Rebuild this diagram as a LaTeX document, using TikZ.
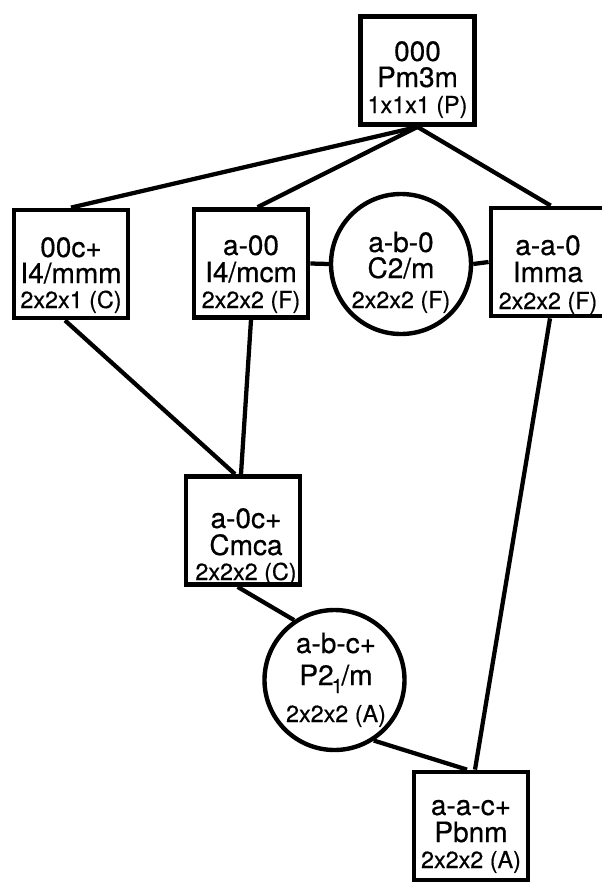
\documentclass[tikz,border=0pt]{standalone}
\usepackage{fontspec}
\setmainfont{TeX Gyre Heros}[FakeBold=0.5]
\usetikzlibrary{calc}
\begin{document}
\begin{tikzpicture}[x=0.75pt,y=-0.75pt,
  box/.style={draw, line width=3.6pt, minimum width=85.5pt, minimum height=81pt, inner sep=0pt},
  ring/.style={draw, circle, line width=3.3pt, minimum size=105pt, inner sep=0pt},
  conn/.style={line width=3.2pt},
  big/.style={font=\fontsize{21}{21}\selectfont, anchor=base, inner sep=0pt},
  small/.style={font=\fontsize{17.5}{17.5}\selectfont, anchor=base, inner sep=0pt}]
\useasboundingbox (0,0) rectangle (602,882);
\clip (0,0) rectangle (602,882);
% shapes
\node[box] (top) at (417.5,70.5) {};
\node[box] (c00) at (71,264) {};
\node[box] (a00) at (251,263.5) {};
\node[ring] (ab0) at (401,264) {};
\node[box] (aa0) at (548,262) {};
\node[box] (a0c) at (243,530.5) {};
\node[ring] (abc) at (334.5,680) {};
\node[box] (aac) at (471,826) {};
% connectors
\draw[conn] (top.south) -- (c00.north);
\draw[conn] (top.south) -- ([xshift=5pt]a00.north);
\draw[conn] (top.south) -- ([xshift=2pt]aa0.north);
\draw[conn] (a00.east) -- (ab0.west);
\draw[conn] (ab0.east) -- (aa0.west);
\draw[conn] ([xshift=-4.5pt]c00.south) -- ([xshift=-6pt]a0c.north);
\draw[conn] (a00.south) -- ([xshift=-1.5pt]a0c.north);
\draw[conn] ([xshift=1.5pt]aa0.south) -- ([xshift=3pt]aac.north);
\draw[conn] ([xshift=-4pt]a0c.south) -- (abc.124);
\draw[conn] (abc.-57) -- ([xshift=-3pt]aac.north);
% texts
\node[big] (t1a) at (417.5,61) {000};
\node[big] (t1b) at (417.5,87) {Pm3m};
\node[small] (t1c) at (417.5,113) {1x1x1 (P)};
\node[big] (t2a) at (71,257) {00c+};
\node[big] (t2b) at (71,283) {I4/mmm};
\node[small] (t2c) at (71,308) {2x2x1 (C)};
\node[big] (t3a) at (251,255) {a-00};
\node[big] (t3b) at (251,282) {I4/mcm};
\node[small] (t3c) at (251,308) {2x2x2 (F)};
\node[big] (t4a) at (401,252) {a-b-0};
\node[big] (t4b) at (401,278) {C2/m};
\node[small] (t4c) at (401,308) {2x2x2 (F)};
\node[big] (t5a) at (548,255) {a-a-0};
\node[big] (t5b) at (548,282) {Imma};
\node[small] (t5c) at (548,309) {2x2x2 (F)};
\node[big] (t6a) at (246,528) {a-0c+};
\node[big] (t6b) at (246,555) {Cmca};
\node[small] (t6c) at (246,580) {2x2x2 (C)};
\node[big] (t7a) at (336,653) {a-b-c+};
\node[big] (t7b) at (336,685) {P2\kern-1.5pt\raisebox{-6pt}{\fontsize{15}{15}\selectfont 1}\kern-1pt/m};
\node[small] (t7c) at (336,722) {2x2x2 (A)};
\node[big] (t8a) at (471,815) {a-a-c+};
\node[big] (t8b) at (471,842) {Pbnm};
\node[small] (t8c) at (471,868) {2x2x2 (A)};
\end{tikzpicture}
\end{document}
